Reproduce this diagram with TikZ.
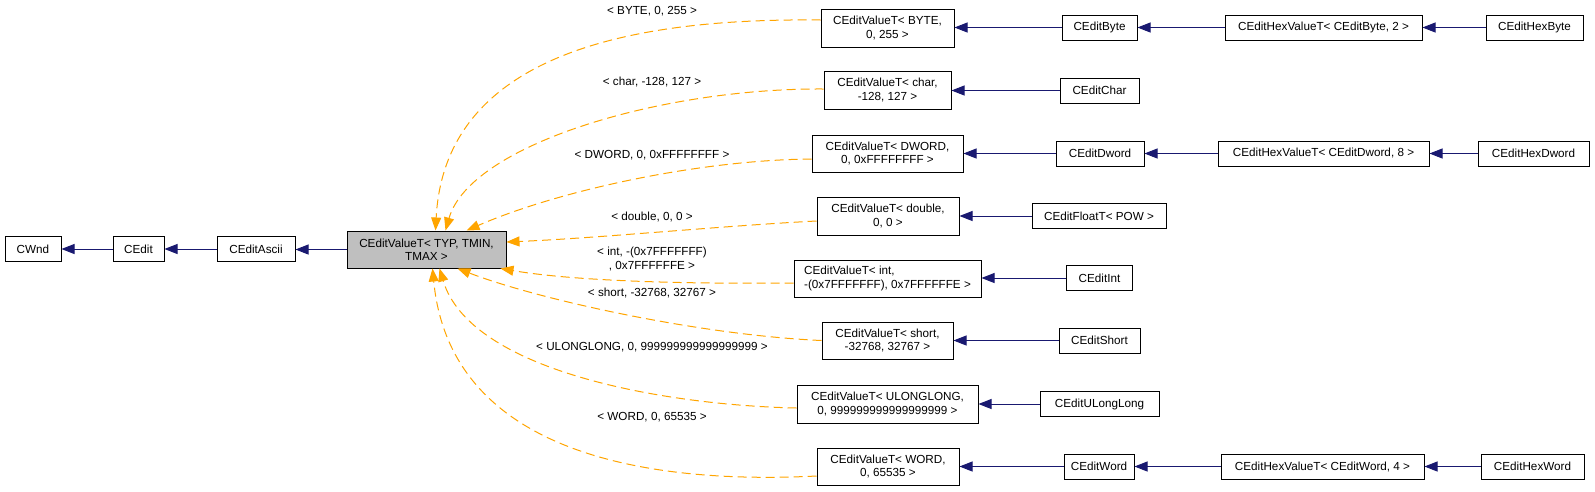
\documentclass[tikz,border=0pt]{standalone}
\usepackage{fontspec}
\setmainfont{Liberation Sans}
\usetikzlibrary{arrows.meta}
\definecolor{navyedge}{RGB}{25,25,112}
\definecolor{orangeedge}{RGB}{255,165,0}
\definecolor{tgray}{RGB}{191,191,191}
\newcommand\dfont{\fontsize{11.7}{13.3}\selectfont}
\tikzset{
  box/.style={draw=black, line width=1pt, fill=white, inner sep=0pt, font=\dfont, align=center, minimum height=25pt},
  inh/.style={draw=navyedge, line width=1pt, -{Triangle[length=13pt,width=10pt]}},
  tmpl/.style={draw=orangeedge, line width=1pt, dash pattern=on 9pt off 5pt, -{Triangle[length=13pt,width=10pt]}},
  lbl/.style={font=\dfont, inner sep=0pt, align=center}
}
\begin{document}
\begin{tikzpicture}[x=1pt,y=-1pt]
\useasboundingbox (0,0) rectangle (1595,491);
\fill[white] (0,0) rectangle (1595,491);
% left chain
\node[box, minimum width=56pt] (cwnd) at (33,249) {CWnd};
\node[box, minimum width=51pt] (cedit) at (138.5,249) {CEdit};
\node[box, minimum width=78pt] (ascii) at (256,249) {CEditAscii};
\node[box, fill=tgray, minimum width=159pt, minimum height=37pt] (typ) at (426.5,249.5) {CEditValueT< TYP, TMIN,\\TMAX >};
% template instances
\node[box, minimum width=133pt, minimum height=38pt] (vbyte) at (887.5,28) {CEditValueT< BYTE,\\0, 255 >};
\node[box, minimum width=127pt, minimum height=38pt] (vchar) at (887.5,90) {CEditValueT< char,\\-128, 127 >};
\node[box, minimum width=151pt, minimum height=37pt] (vdword) at (887.5,153.5) {CEditValueT< DWORD,\\0, 0xFFFFFFFF >};
\node[box, minimum width=142pt, minimum height=38pt] (vdouble) at (888,216) {CEditValueT< double,\\0, 0 >};
\node[box, align=left, minimum width=187pt, minimum height=37pt] (vint) at (887.5,278.5) {CEditValueT< int,\\-(0x7FFFFFFF), 0x7FFFFFFE >};
\node[box, minimum width=131pt, minimum height=37pt] (vshort) at (887.5,340.5) {CEditValueT< short,\\-32768, 32767 >};
\node[box, minimum width=181pt, minimum height=38pt] (vulong) at (887.5,404) {CEditValueT< ULONGLONG,\\0, 999999999999999999 >};
\node[box, minimum width=142pt, minimum height=37pt] (vword) at (888,466.5) {CEditValueT< WORD,\\0, 65535 >};
% right side
\node[box, minimum width=75pt] (cbyte) at (1099.5,27.5) {CEditByte};
\node[box, minimum width=197pt] (hbyte) at (1323.5,27.5) {CEditHexValueT< CEditByte, 2 >};
\node[box, minimum width=97pt] (hexbyte) at (1534.5,27.5) {CEditHexByte};
\node[box, minimum width=79pt] (cchar) at (1099.5,90.5) {CEditChar};
\node[box, minimum width=88pt] (cdword) at (1100,153.5) {CEditDword};
\node[box, minimum width=211pt] (hdword) at (1323.5,153.5) {CEditHexValueT< CEditDword, 8 >};
\node[box, minimum width=111pt] (hexdword) at (1533.5,153.5) {CEditHexDword};
\node[box, minimum width=134pt] (cfloat) at (1099,216) {CEditFloatT< POW >};
\node[box, minimum width=66pt] (cint) at (1099.5,278) {CEditInt};
\node[box, minimum width=81pt] (cshort) at (1099.5,340.5) {CEditShort};
\node[box, minimum width=119pt] (culong) at (1099.5,404) {CEditULongLong};
\node[box, minimum width=70pt] (cword) at (1099,466.5) {CEditWord};
\node[box, minimum width=203pt] (hword) at (1322.5,466.5) {CEditHexValueT< CEditWord, 4 >};
\node[box, minimum width=103pt] (hexword) at (1532.5,466.5) {CEditHexWord};
% inheritance edges
\draw[inh] (cedit.west) -- (cedit.west -| cwnd.east);
\draw[inh] (ascii.west) -- (ascii.west -| cedit.east);
\draw[inh] (typ.west) -- (typ.west -| ascii.east);
\draw[inh] (cbyte.west) -- (cbyte.west -| vbyte.east);
\draw[inh] (hbyte.west) -- (hbyte.west -| cbyte.east);
\draw[inh] (hexbyte.west) -- (hexbyte.west -| hbyte.east);
\draw[inh] (cchar.west) -- (cchar.west -| vchar.east);
\draw[inh] (cdword.west) -- (cdword.west -| vdword.east);
\draw[inh] (hdword.west) -- (hdword.west -| cdword.east);
\draw[inh] (hexdword.west) -- (hexdword.west -| hdword.east);
\draw[inh] (cfloat.west) -- (cfloat.west -| vdouble.east);
\draw[inh] (cint.west) -- (cint.west -| vint.east);
\draw[inh] (cshort.west) -- (cshort.west -| vshort.east);
\draw[inh] (culong.west) -- (culong.west -| vulong.east);
\draw[inh] (cword.west) -- (cword.west -| vword.east);
\draw[inh] (hword.west) -- (hword.west -| cword.east);
\draw[inh] (hexword.west) -- (hexword.west -| hword.east);
% template edges
\draw[tmpl] ([yshift=8pt]vbyte.west) .. controls (640,18) and (445,50) .. ([xshift=89pt]typ.north west);
\draw[tmpl] ([yshift=1pt]vchar.west) .. controls (660,88) and (470,145) .. ([xshift=99pt]typ.north west);
\draw[tmpl] ([yshift=-5.5pt]vdword.west) .. controls (700,160) and (560,190) .. ([xshift=120pt]typ.north west);
\draw[tmpl] ([yshift=-5pt]vdouble.west) .. controls (720,226) and (600,238) .. ([yshift=7.5pt]typ.east);
\draw[tmpl] ([yshift=-4.5pt]vint.west) .. controls (700,284) and (580,282) .. ([xshift=-6pt]typ.south east);
\draw[tmpl] (vshort.west) .. controls (700,335) and (540,300) .. ([xshift=111pt]typ.south west);
\draw[tmpl] ([yshift=-4pt]vulong.west) .. controls (660,405) and (470,370) .. ([xshift=93pt]typ.south west);
\draw[tmpl] ([yshift=-9.5pt]vword.west) .. controls (640,485) and (450,450) .. ([xshift=86pt]typ.south west);
% edge labels
\node[lbl] (lbyte) at (652,11) {< BYTE, 0, 255 >};
\node[lbl] (lchar) at (652,82) {< char, -128, 127 >};
\node[lbl] (ldword) at (652,155) {< DWORD, 0, 0xFFFFFFFF >};
\node[lbl] (ldouble) at (652,217) {< double, 0, 0 >};
\node[lbl] (lint) at (652,259) {< int, -(0x7FFFFFFF)\\, 0x7FFFFFFE >};
\node[lbl] (lshort) at (652,293) {< short, -32768, 32767 >};
\node[lbl] (lulong) at (652,347) {< ULONGLONG, 0, 999999999999999999 >};
\node[lbl] (lword) at (652,417) {< WORD, 0, 65535 >};
\end{tikzpicture}
\end{document}
